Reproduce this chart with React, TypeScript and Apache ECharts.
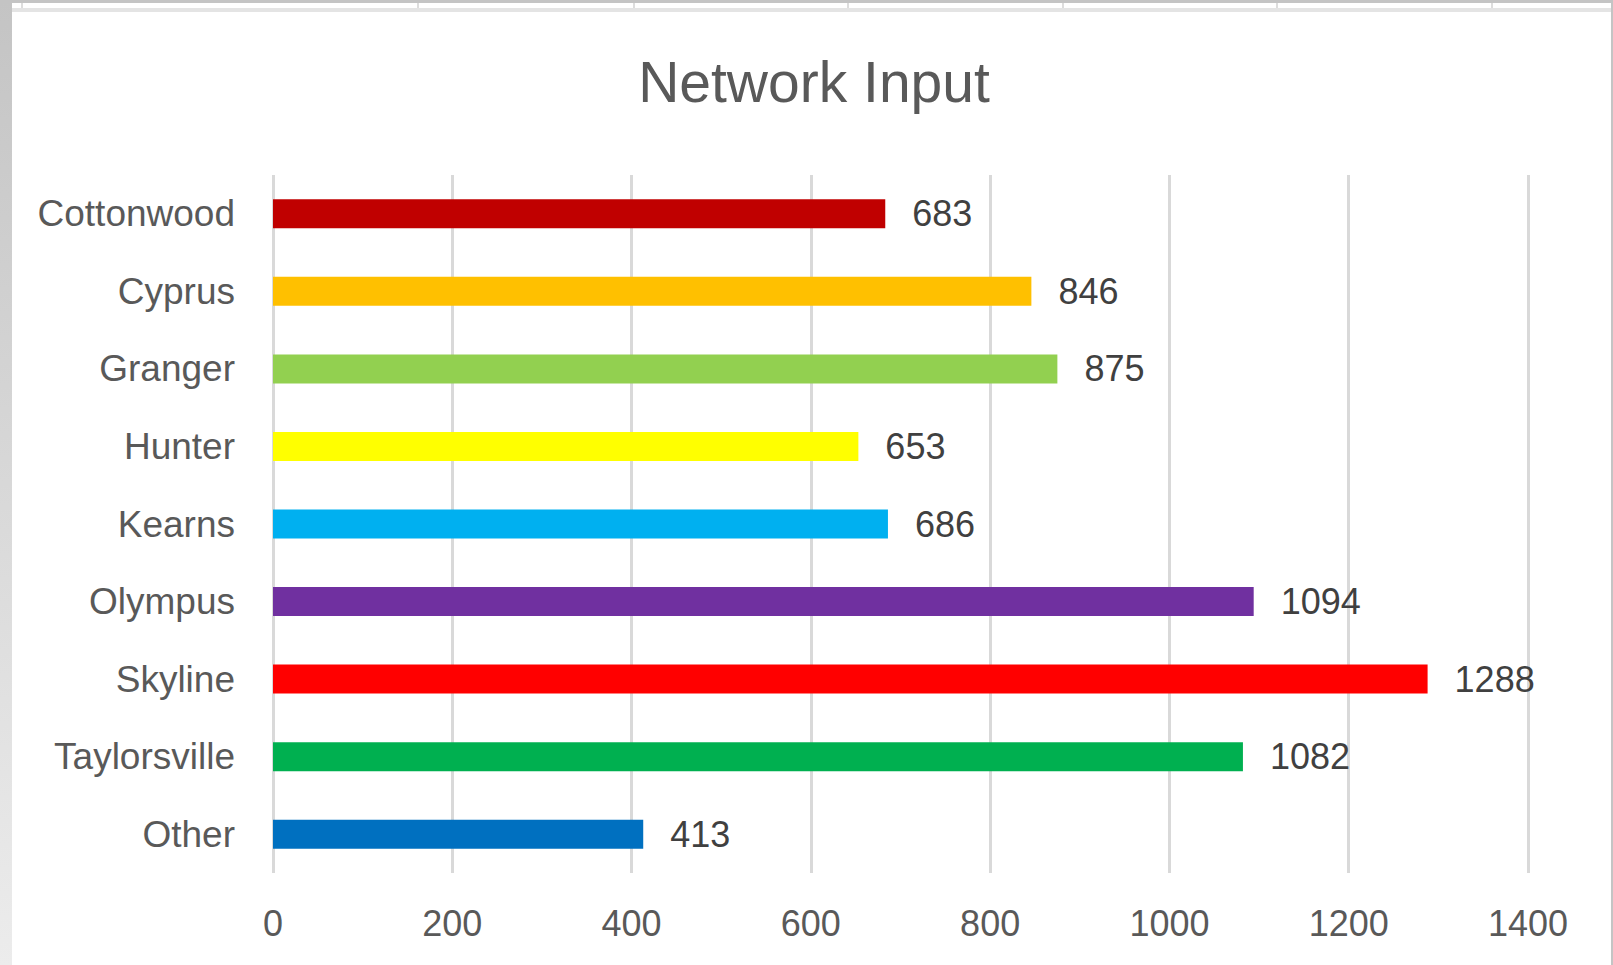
import React, { useEffect, useRef } from "react";
import * as echarts from "echarts";

const categories = ["Cottonwood", "Cyprus", "Granger", "Hunter", "Kearns", "Olympus", "Skyline", "Taylorsville", "Other"];
const values = [683, 846, 875, 653, 686, 1094, 1288, 1082, 413];
const barColors = ["#C00000", "#FFC000", "#92D050", "#FFFF00", "#00B0F0", "#7030A0", "#FF0000", "#00B050", "#0070C0"];
const xTicks = [0, 200, 400, 600, 800, 1000, 1200, 1400];

const W = 1613;
const H = 965;
const FONT = "'Liberation Sans', Arial, sans-serif";
const TEXT = "#595959";

export default function App() {
  const ref = useRef<HTMLDivElement>(null);
  useEffect(() => {
    document.body.style.margin = "0";
    if (!ref.current) return;
    const chart = echarts.init(ref.current, null, { renderer: "svg" });
    const cellLines = [21, 417, 633, 847, 1062, 1276, 1491];
    const option: any = {
      animation: false,
      backgroundColor: "#ffffff",
      title: {
        text: "Network Input",
        left: 809,
        top: 48,
        textAlign: "center",
        textStyle: { fontFamily: FONT, fontSize: 57, fontWeight: "normal", color: TEXT },
      },
      grid: { left: 273, right: 85, top: 175, bottom: 92, containLabel: false },
      xAxis: {
        type: "value",
        min: xTicks[0],
        max: xTicks[xTicks.length - 1],
        interval: 200,
        axisLine: { show: false },
        axisTick: { show: false },
        splitLine: { show: true, lineStyle: { color: "#d9d9d9", width: 3 } },
        axisLabel: {
          fontFamily: FONT,
          fontSize: 36,
          color: TEXT,
          margin: 32,
          formatter: (v: number) => String(v),
        },
      },
      yAxis: {
        type: "category",
        data: categories,
        inverse: true,
        axisLine: { show: false },
        axisTick: { show: false },
        axisLabel: { fontFamily: FONT, fontSize: 37, color: TEXT, margin: 38 },
      },
      series: [
        {
          type: "bar",
          data: values.map((v, i) => ({ value: v, itemStyle: { color: barColors[i] } })),
          barWidth: 29,
          label: {
            show: true,
            position: "right",
            distance: 27,
            fontFamily: FONT,
            fontSize: 36,
            color: "#404040",
          },
        },
      ],
      graphic: [
        {
          type: "rect",
          shape: { x: 0, y: 0, width: 12, height: H },
          style: {
            fill: new echarts.graphic.LinearGradient(0, 0, 0, 1, [
              { offset: 0, color: "#c4c4c4" },
              { offset: 1, color: "#ececec" },
            ]),
          },
          silent: true,
        },
        { type: "rect", shape: { x: 0, y: 0, width: W, height: 3 }, style: { fill: "#c4c4c4" }, silent: true },
        { type: "rect", shape: { x: 12, y: 8, width: W - 12, height: 4 }, style: { fill: "#e4e4e4" }, silent: true },
        { type: "rect", shape: { x: W - 2, y: 0, width: 2, height: H }, style: { fill: "#c4c4c4" }, silent: true },
        ...cellLines.map((x) => ({
          type: "rect",
          shape: { x, y: 3, width: 2, height: 5 },
          style: { fill: "#dddddd" },
          silent: true,
        })),
      ],
    };
    chart.setOption(option);
    return () => chart.dispose();
  }, []);
  return <div ref={ref} style={{ width: W, height: H }} />;
}
